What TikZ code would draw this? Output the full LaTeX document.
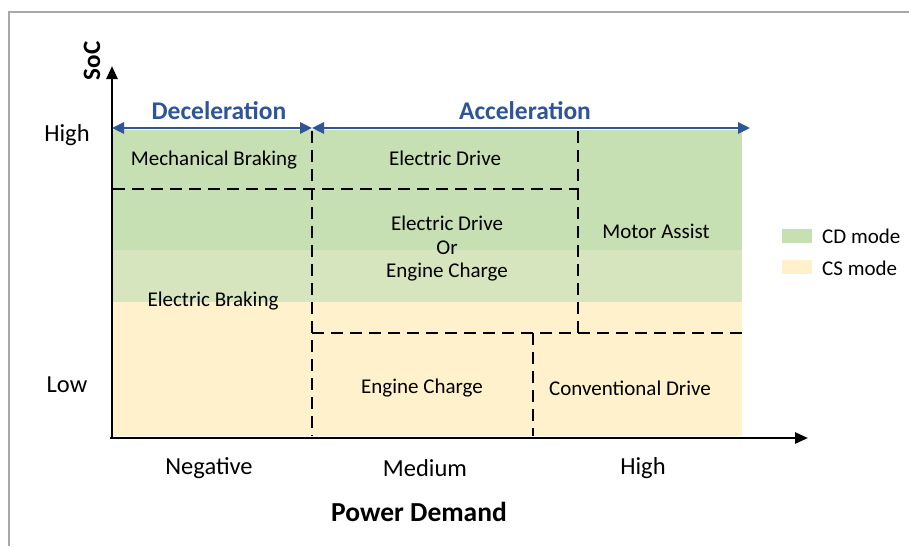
\documentclass[tikz,border=0pt]{standalone}
\usepackage{fontspec}
\setmainfont{Carlito}
\usetikzlibrary{arrows.meta}
\definecolor{cdgreen}{HTML}{C6E0B4}
\definecolor{cdlight}{HTML}{D7E5BF}
\definecolor{csbeige}{HTML}{FFF1CB}
\definecolor{zoneblue}{HTML}{2F5597}
\definecolor{framegray}{HTML}{A8A8A8}
\tikzset{
  region/.style={font=\fontsize{21}{25}\selectfont, align=center, inner sep=0pt},
  axislabel/.style={font=\fontsize{24.5}{28}\selectfont, inner sep=0pt},
  zonetitle/.style={font=\fontsize{25.5}{30}\selectfont\bfseries, text=zoneblue, inner sep=0pt},
  legendtext/.style={font=\fontsize{21}{25}\selectfont, anchor=west, inner sep=0pt},
  divider/.style={draw=black, line width=1.6pt, dash pattern=on 12pt off 7pt},
  axisline/.style={draw=black, line width=2.6pt, -{Triangle[length=13pt,width=11pt]}},
  zonearrow/.style={draw=zoneblue, line width=2.6pt, {Triangle[length=12pt,width=11pt]}-{Triangle[length=12pt,width=11pt]}}
}
\begin{document}
\begin{tikzpicture}[x=1pt,y=-1pt]
\useasboundingbox (0,0) rectangle (909,546);
\fill[white] (0,0) rectangle (909,546);

% outer frame
\draw[framegray, line width=2pt] (9,546) -- (9,12) -- (909,12);

% operating-mode areas
\fill[csbeige] (113,130) rectangle (742,436);
\fill[cdlight] (113,130) rectangle (742,302);
\fill[cdgreen] (113,130) rectangle (742,250);

% key points
\coordinate (origin) at (112,438);
\coordinate (ytip) at (112,66);
\coordinate (xstart) at (110,438);
\coordinate (xtip) at (808,438);
\coordinate (dL) at (112,128);
\coordinate (dR) at (312,128);
\coordinate (aR) at (750,128);

% region boundaries
\draw[divider] (312,131) -- (312,436);
\draw[divider] (113,189) -- (578,189);
\draw[divider] (578,131) -- (578,333) -- (312,333);
\draw[divider] (578,333) -- (742,333);
\draw[divider] (533,333) -- (533,436);

% axes
\draw[axisline] (origin) -- (ytip);
\draw[axisline] (xstart) -- (xtip);

% deceleration / acceleration spans
\draw[zonearrow] (dL) -- (dR);
\draw[zonearrow] (dR) -- (aR);
\node[zonetitle] (decel) at (219,111) {Deceleration};
\node[zonetitle] (accel) at (525,111) {Acceleration};

% axis labels
\node[font=\fontsize{25}{30}\selectfont\bfseries, rotate=90, inner sep=0pt] (soc) at (92,61) {SoC};
\node[axislabel] (high) at (67,135) {High};
\node[axislabel] (low) at (67,385) {Low};
\node[axislabel] (neg) at (209,468) {Negative};
\node[axislabel] (med) at (425,468) {Medium};
\node[axislabel] (hi) at (643,468) {High};
\node[font=\fontsize{27.5}{32}\selectfont\bfseries, inner sep=0pt] (pd) at (419,512) {Power Demand};

% region labels
\node[region] (mech) at (214,160) {Mechanical Braking};
\node[region] (ed) at (445,158) {Electric Drive};
\node[region, align=center, font=\fontsize{21}{23.5}\selectfont] (edec) at (447,249) {Electric Drive\\Or\\Engine Charge};
\node[region] (ma) at (656,231) {Motor Assist};
\node[region] (eb) at (213,301) {Electric Braking};
\node[region] (ec) at (422,388) {Engine Charge};
\node[region] (cd) at (630,388) {Conventional Drive};

% legend
\fill[cdgreen] (782,229) rectangle (812,243);
\fill[csbeige] (782,260) rectangle (812,274);
\node[legendtext] (cdm) at (822,236) {CD mode};
\node[legendtext] (csm) at (822,268) {CS mode};
\end{tikzpicture}
\end{document}
